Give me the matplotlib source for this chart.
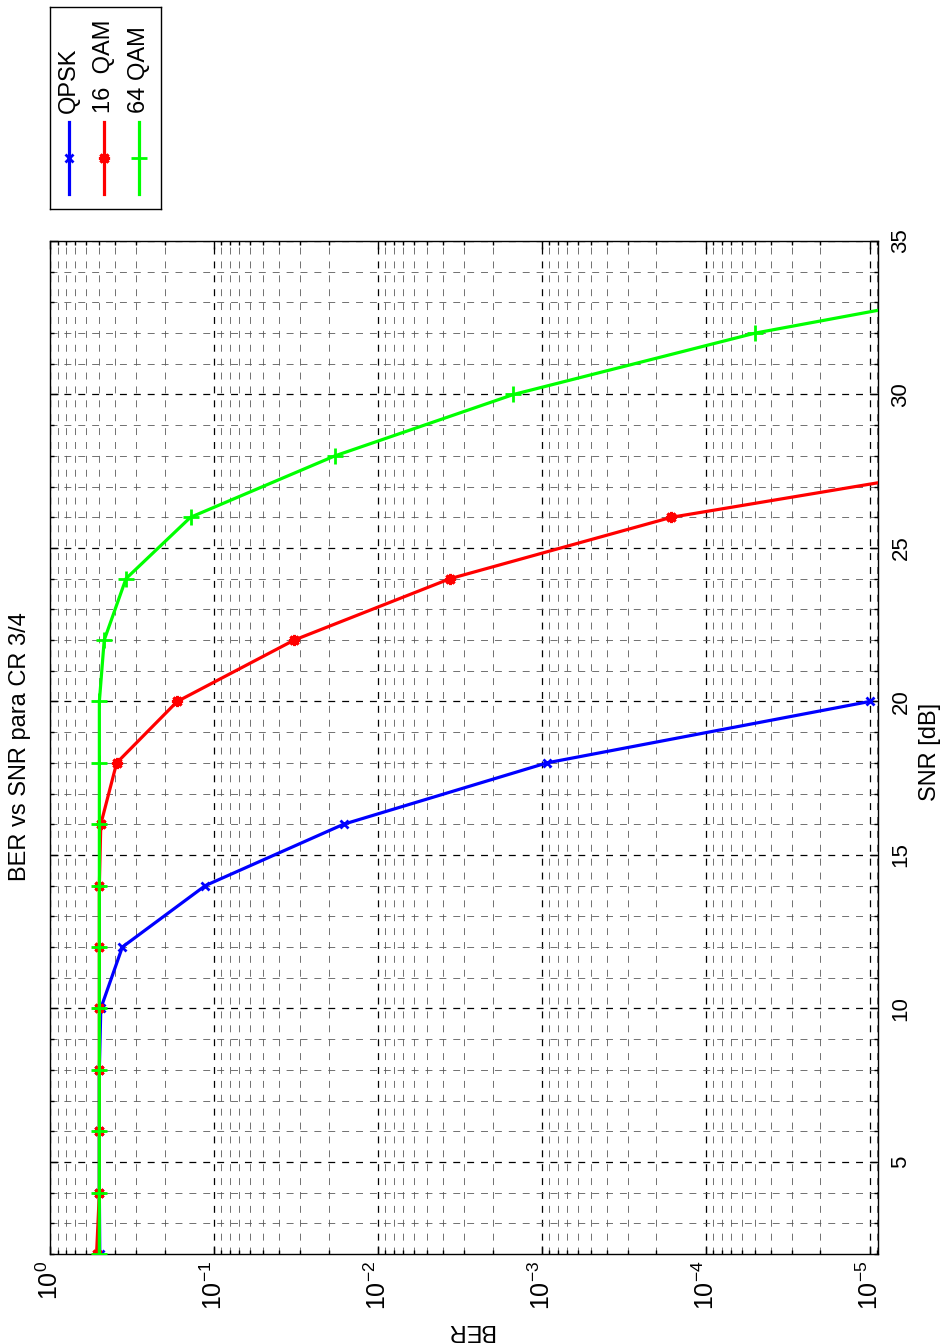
import numpy as np
import matplotlib
matplotlib.use('Agg')
import matplotlib.pyplot as plt
from matplotlib.ticker import LogLocator, NullFormatter, MultipleLocator, LogFormatterMathtext

plt.rcParams['font.family'] = ['Liberation Sans', 'DejaVu Sans']
plt.rcParams['mathtext.fontset'] = 'custom'
plt.rcParams['mathtext.rm'] = 'Liberation Sans'
plt.rcParams['mathtext.it'] = 'Liberation Sans:italic'
plt.rcParams['mathtext.bf'] = 'Liberation Sans:bold'
plt.rcParams['lines.scale_dashes'] = False

# ---------------- data ----------------
snr_qpsk = [2, 4, 6, 8, 10, 12, 14, 16, 18, 20]
ber_qpsk = [0.497, 0.5, 0.5, 0.5, 0.49, 0.362, 0.113, 0.0162, 9.3e-4, 1.0e-5]

snr_16qam = [2, 4, 6, 8, 10, 12, 14, 16, 18, 20, 22, 24, 26, 28]
ber_16qam = [0.52, 0.5, 0.5, 0.5, 0.5, 0.5, 0.5, 0.49, 0.392, 0.1675,
             0.0324, 3.63e-3, 1.62e-4, 9.3e-7]

snr_64qam = [2, 4, 6, 8, 10, 12, 14, 16, 18, 20, 22, 24, 26, 28, 30, 32, 34]
ber_64qam = [0.5, 0.5, 0.5, 0.5, 0.5, 0.5, 0.5, 0.5, 0.5, 0.5,
             0.467, 0.344, 0.139, 0.0183, 1.49e-3, 5.0e-5, 4.8e-7]

labels = ['QPSK', '16  QAM', '64 QAM']
colors = ['#0000ff', '#ff0000', '#00ff00']
snr_ticks = [5, 10, 15, 20, 25, 30, 35]

title = 'BER vs SNR para CR 3/4'
xlabel = 'SNR [dB]'
ylabel = 'BER'

# ---------------- figure ----------------
W, H = 944, 1344
fig = plt.figure(figsize=(W / 100, H / 100), dpi=100)
ax = fig.add_axes([50 / W, 1 - 1254 / H, 828 / W, 1013 / H])

styles = [
    dict(marker='x', ms=6, mew=2.0),
    dict(marker=(8, 2, 0), ms=8, mew=2.2),
    dict(marker='+', ms=12, mew=2.0),
]
series = [(ber_qpsk, snr_qpsk), (ber_16qam, snr_16qam), (ber_64qam, snr_64qam)]
for (b, s), c, st, lab in zip(series, colors, styles, labels):
    ax.plot(b, s, color=c, lw=2.3, label=lab, zorder=3, **st)

ax.set_xscale('log')
ax.set_xlim(1.0, 10 ** -5.05)
ax.set_ylim(2, 35)

ax.xaxis.set_major_locator(LogLocator(base=10, numticks=20))
ax.xaxis.set_minor_locator(LogLocator(base=10, subs=np.arange(2, 10), numticks=100))
ax.xaxis.set_minor_formatter(NullFormatter())
ax.xaxis.set_major_formatter(LogFormatterMathtext())
ax.yaxis.set_major_locator(plt.FixedLocator(snr_ticks))
ax.yaxis.set_minor_locator(MultipleLocator(1))

ax.grid(which='major', color='k', linestyle=(0, (5, 5)), linewidth=0.9)
ax.grid(which='minor', color='0.35', linestyle=(0, (5, 5)), linewidth=0.6)
ax.set_axisbelow(True)

ax.tick_params(which='both', direction='in', top=True, bottom=True,
               left=True, right=True, labelleft=False, labelright=True,
               labelbottom=True, width=1.0)
ax.tick_params(which='major', length=6)
ax.tick_params(which='minor', length=3)
ax.tick_params(axis='x', labelrotation=90, labelsize=18, pad=5)
ax.tick_params(axis='y', labelrotation=90, labelsize=16, pad=9)
for t in ax.yaxis.get_major_ticks():
    t.label2.set_va('center')
for sp in ax.spines.values():
    sp.set_linewidth(1.0)

fig.text(20 / W, 1 - 747 / H, title, rotation=90, ha='center', va='center', fontsize=17)
fig.text(930 / W, 1 - 752 / H, xlabel, rotation=90, ha='center', va='center', fontsize=17)
fig.text(470 / W, 1 - 1330 / H, ylabel, rotation=180, ha='center', va='center', fontsize=17)

# ---------------- legend (rotated, built by hand) ----------------
lax = fig.add_axes([50 / W, 1 - 209 / H, 111 / W, 202 / H])
lax.set_xlim(0, 111)
lax.set_ylim(0, 202)
lax.set_xticks([])
lax.set_yticks([])
for sp in lax.spines.values():
    sp.set_linewidth(1.0)
for i, (c, st, lab) in enumerate(zip(colors, styles, labels)):
    xc = 19 + 35 * i
    lax.plot([xc, xc], [15, 87], color=c, lw=2.3)
    lax.plot([xc], [51], color=c, linestyle='none', **st)
    lax.text(xc, 96, lab, rotation=90, ha='center', va='bottom', fontsize=17)

fig.savefig('out.png', dpi=100)
